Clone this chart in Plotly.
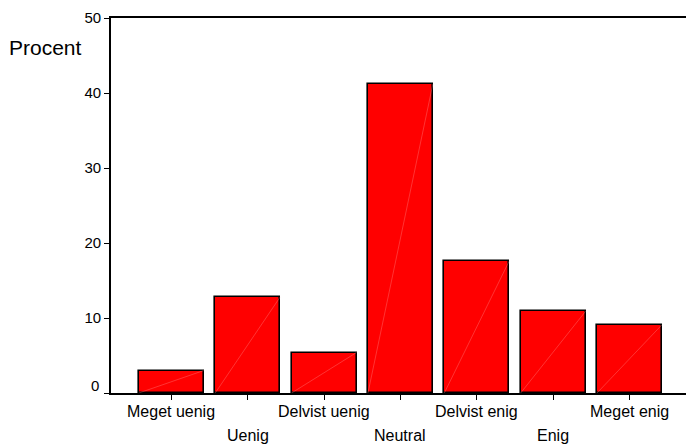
import plotly.graph_objects as go

categories = ["Meget uenig", "Uenig", "Delvist uenig", "Neutral", "Delvist enig", "Enig", "Meget enig"]
values = [3.0, 12.8, 5.4, 41.2, 17.6, 10.9, 9.1]
y_ticks = [0, 10, 20, 30, 40, 50]

FONT = "Liberation Sans, Arial, sans-serif"
bar_w = 0.85
xs = list(range(len(categories)))

fig = go.Figure()
fig.add_trace(go.Bar(
    x=xs, y=values, width=bar_w,
    marker=dict(color="#FF0000", line=dict(color="black", width=1.6)),
    hoverinfo="skip", showlegend=False,
))

# faint diagonal artefact inside each bar
dx, dy = [], []
for i, v in zip(xs, values):
    dx += [i - bar_w / 2, i + bar_w / 2, None]
    dy += [0, v, None]
fig.add_trace(go.Scatter(x=dx, y=dy, mode="lines",
                         line=dict(color="rgba(255,170,170,0.6)", width=0.5),
                         hoverinfo="skip", showlegend=False))

annotations = []
for i, c in enumerate(categories):
    annotations.append(dict(
        x=i, y=0, xref="x", yref="paper", text=c, showarrow=False,
        yanchor="middle", yshift=-18 if i % 2 == 0 else -42,
        font=dict(family=FONT, size=16, color="black"),
    ))
annotations.append(dict(
    x=0, y=0, xref="paper", yref="y", text="0", showarrow=False,
    xanchor="right", xshift=-10, yshift=8,
    font=dict(family=FONT, size=15, color="black"),
))
annotations.append(dict(
    x=0, y=(393 - 48) / 375, xref="paper", yref="paper", text="Procent",
    showarrow=False, xanchor="left", xshift=-104, yanchor="middle",
    font=dict(family=FONT, size=21, color="black"),
))

fig.update_layout(
    width=687, height=444,
    margin=dict(l=111, r=1, t=18, b=51),
    paper_bgcolor="white", plot_bgcolor="white",
    font=dict(family=FONT, color="black"),
    annotations=annotations,
    xaxis=dict(
        range=[-0.79, 6.74], tickvals=xs, ticktext=[""] * len(xs),
        ticks="outside", ticklen=5, tickwidth=1.2, tickcolor="black",
        showline=True, linecolor="black", linewidth=1.8, mirror=True,
        showgrid=False, zeroline=False, fixedrange=True,
    ),
    yaxis=dict(
        range=[0, 50], tickvals=y_ticks,
        ticktext=["" if t == 0 else str(t) for t in y_ticks],
        ticks="outside", ticklen=5, tickwidth=1.2, tickcolor="black",
        tickfont=dict(family=FONT, size=15, color="black"),
        showline=True, linecolor="black", linewidth=1.8, mirror=False,
        showgrid=False, zeroline=False, fixedrange=True,
    ),
    bargap=0,
)

fig.write_html(
    "out.html",
    config={"displayModeBar": False},
    post_script="document.body.style.margin='0';document.body.style.overflow='hidden';",
)
